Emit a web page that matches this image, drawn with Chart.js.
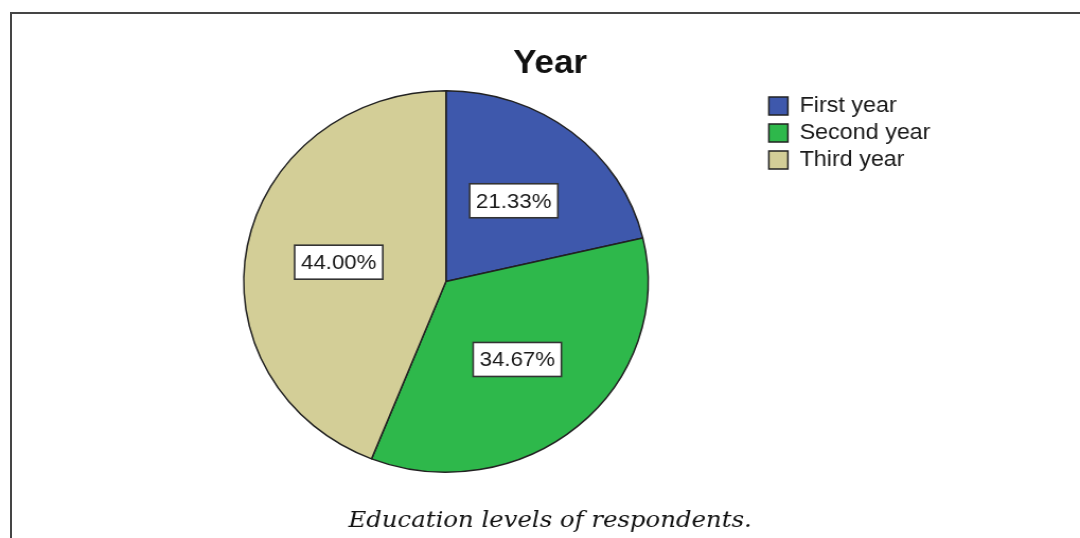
<!DOCTYPE html>
<html>
<head>
<meta charset="utf-8">
<script src="https://cdn.jsdelivr.net/npm/chart.js@4"></script>
<style>
html,body{margin:0;padding:0;background:#fff;}
#wrap{position:relative;width:1080px;height:538px;overflow:hidden;background:#fff;}
#frame{position:absolute;left:10px;top:12px;width:1200px;height:700px;border-left:2px solid #454545;border-top:2px solid #454545;box-sizing:border-box;}
#c{position:absolute;left:0;top:0;}
</style>
</head>
<body>
<div id="wrap"><div id="frame"></div><canvas id="c" width="1019" height="538" style="width:1080px;height:538px;"></canvas></div>
<script>
// ---- data ----
const chartTitle = 'Year';
const caption = 'Education levels of respondents.';
const categories = ['First year', 'Second year', 'Third year'];
const percentages = [21.33, 34.67, 44.00];
const sliceColors = ['#3E58AC', '#2EB84B', '#D3CE97'];

// ---- layout constants (logical canvas px; canvas is stretched horizontally by CSS) ----
const LEFT_SPACER = 101.1;
const LEGEND_LEFT = 720.4;
const LABEL_RADIUS = 0.54;
const SANS = '"Liberation Sans", Arial, Helvetica, sans-serif';

function makeSpacer(chart, position, weight, sizeFn) {
  return {
    position: position, weight: weight, fullSize: false, options: {display: true},
    left: 0, top: 0, right: 0, bottom: 0, width: 0, height: 0,
    isHorizontal() { return false; },
    update(maxWidth, maxHeight) { this.width = sizeFn(chart); this.height = maxHeight; },
    draw() {}
  };
}
function addBox(chart, box) {
  if (Chart.layouts && Chart.layouts.addBox) { Chart.layouts.addBox(chart, box); }
  else {
    box._layers = () => [{z: 0, draw(a) { box.draw(a); }}];
    chart.boxes.push(box);
  }
}
const spacerPlugin = {
  id: 'spacers',
  beforeInit(chart) {
    addBox(chart, makeSpacer(chart, 'left', 10, () => LEFT_SPACER - (LEGEND_LEFT - 721.4)));
    addBox(chart, makeSpacer(chart, 'right', 2000,
      c => Math.max(0, c.width - LEGEND_LEFT - (c.legend ? c.legend.width : 0))));
  }
};

const labelPlugin = {
  id: 'pctLabels',
  afterDatasetsDraw(chart) {
    const ctx = chart.ctx;
    const meta = chart.getDatasetMeta(0);
    const values = chart.data.datasets[0].data;
    ctx.save();
    ctx.font = '21px ' + SANS;
    ctx.textAlign = 'center';
    ctx.textBaseline = 'middle';
    meta.data.forEach((arc, i) => {
      const p = arc.getProps(['x', 'y', 'startAngle', 'endAngle', 'outerRadius'], true);
      const mid = (p.startAngle + p.endAngle) / 2;
      const lx = p.x + Math.cos(mid) * p.outerRadius * LABEL_RADIUS;
      const ly = p.y + Math.sin(mid) * p.outerRadius * LABEL_RADIUS;
      const text = Number(values[i]).toFixed(2) + '%';
      const w = ctx.measureText(text).width + 12;
      const h = 34;
      ctx.fillStyle = '#ffffff';
      ctx.fillRect(lx - w / 2, ly - h / 2, w, h);
      ctx.lineWidth = 1.6;
      ctx.strokeStyle = '#333333';
      ctx.strokeRect(lx - w / 2, ly - h / 2, w, h);
      ctx.fillStyle = '#1a1a1a';
      ctx.fillText(text, lx, ly + 1);
    });
    ctx.restore();
  }
};

new Chart(document.getElementById('c'), {
  type: 'pie',
  data: {
    labels: categories,
    datasets: [{
      data: percentages,
      backgroundColor: sliceColors,
      borderColor: '#222222',
      borderWidth: 1.5,
      hoverOffset: 0
    }]
  },
  options: {
    responsive: false,
    devicePixelRatio: 1,
    animation: false,
    events: [],
    rotation: 0,
    layout: {padding: {left: 19, right: 0, top: 0, bottom: 0}},
    plugins: {
      title: {
        display: true, text: chartTitle, color: '#111111',
        font: {family: SANS, size: 33, weight: 'bold', lineHeight: 1.2},
        padding: {top: 44.2, bottom: 6.2}
      },
      subtitle: {
        display: true, position: 'bottom', text: caption, color: '#111111',
        font: {family: '"DejaVu Serif", serif', size: 23, style: 'italic', lineHeight: 1.2},
        padding: {top: 34.2, bottom: 3.2}
      },
      legend: {
        position: 'right', align: 'start', fullSize: false, maxWidth: 300,
        labels: {
          boxWidth: 18, boxHeight: 18, padding: 5, color: '#1a1a1a',
          font: {family: SANS, size: 22}
        }
      },
      tooltip: {enabled: false}
    }
  },
  plugins: [spacerPlugin, labelPlugin]
});
</script>
</body>
</html>
